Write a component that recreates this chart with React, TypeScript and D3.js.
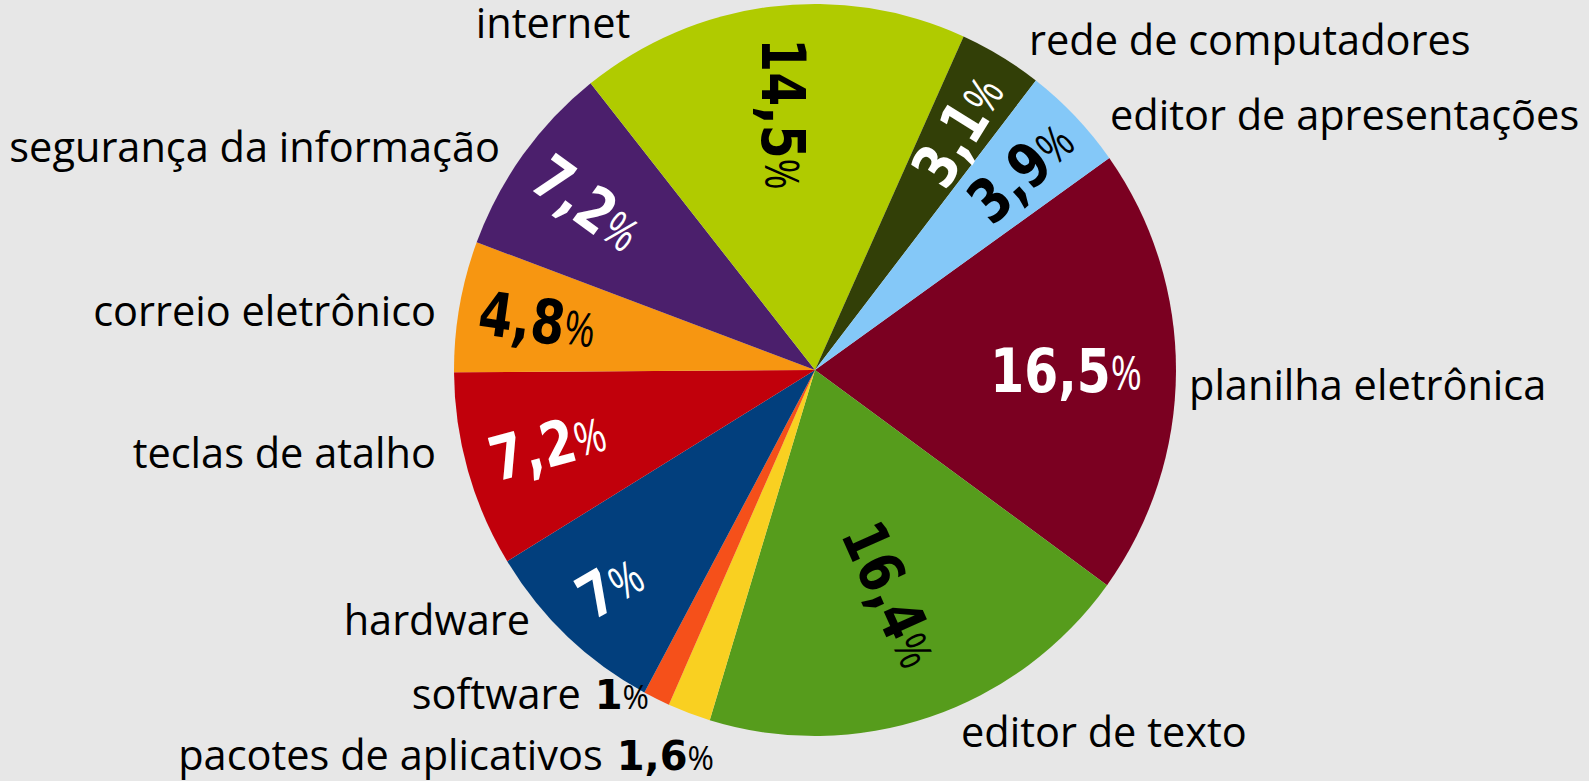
import React from "react";
import * as d3 from "d3";

const categories = [
  "planilha eletrônica",
  "editor de texto",
  "pacotes de aplicativos",
  "software",
  "hardware",
  "teclas de atalho",
  "correio eletrônico",
  "segurança da informação",
  "internet",
  "rede de computadores",
  "editor de apresentações",
];
const values = [16.5, 16.4, 1.6, 1, 7, 7.2, 4.8, 7.2, 14.5, 3.1, 3.9];
const valueLabels = ["16,5", "16,4", "1,6", "1", "7", "7,2", "4,8", "7,2", "14,5", "3,1", "3,9"];

const colors = [
  "#7b0021", "#569c1c", "#f9d021", "#f5501a", "#023f7d", "#c1000b",
  "#f79611", "#4b1f6c", "#b0cb00", "#323f07", "#84c8f8",
];

// in-slice label styling: [radius, rotation, color] ; null = label placed outside inline
const inside: ([number, number, string] | null)[] = [
  [251, 0, "#ffffff"],
  [237, 66, "#000000"],
  null,
  null,
  [298, -30, "#ffffff"],
  [278, -15, "#ffffff"],
  [282, 8, "#000000"],
  [282, 36, "#ffffff"],
  [258, 90, "#000000"],
  [279, -58, "#ffffff"],
  [286, -42, "#000000"],
];

// outside category label positions: [x, y, anchor]
const outside: [number, number, string][] = [
  [1189, 400, "start"],
  [961, 747, "start"],
  [714, 770, "end"],
  [649, 709, "end"],
  [530, 635, "end"],
  [436, 468, "end"],
  [436, 326, "end"],
  [500, 162, "end"],
  [553, 38, "middle"],
  [1029, 55, "start"],
  [1110, 130, "start"],
];

const W = 1589;
const H = 781;
const CX = 815;
const CY = 370;
const R = 361;

export default function App() {
  const deg = Math.PI / 180;
  const pie = d3
    .pie<number>()
    .sort(null)
    .value((d) => d)
    .startAngle(54.6 * deg)
    .endAngle(54.6 * deg + 2 * Math.PI);
  const arcs = pie(values);
  const arc = d3.arc<d3.PieArcDatum<number>>().innerRadius(0).outerRadius(R);
  const labelFont = "'Open Sans', sans-serif";
  const numFont = "'DejaVu Sans', Verdana, sans-serif";

  return (
    <svg
      width={W}
      height={H}
      style={{ position: "absolute", left: 0, top: 0, display: "block" }}
    >
      <rect x={0} y={0} width={W} height={H} fill="#e7e7e7" />
      <g transform={`translate(${CX},${CY}) scale(1,1.014)`}>
        {arcs.map((a, i) => (
          <path key={i} d={arc(a) || ""} fill={colors[i]} />
        ))}
      </g>
      {arcs.map((a, i) => {
        const cfg = inside[i];
        if (!cfg) return null;
        const mid = (a.startAngle + a.endAngle) / 2;
        const x = CX + cfg[0] * Math.sin(mid);
        const y = CY - cfg[0] * Math.cos(mid);
        return (
          <g key={"p" + i} transform={`translate(${x},${y}) rotate(${cfg[1]}) scale(0.8,1)`}>
            <text
              textAnchor="middle"
              dominantBaseline="central"
              fill={cfg[2]}
            >
              <tspan fontFamily={numFont} fontWeight="bold" fontSize={61}>
                {valueLabels[i]}
              </tspan>
              <tspan fontFamily={labelFont} fontSize={47}>%</tspan>
            </text>
          </g>
        );
      })}
      {categories.map((c, i) => {
        const [x, y, anchor] = outside[i];
        const inline = inside[i] === null;
        return (
          <text
            key={"l" + i}
            x={x}
            y={y}
            textAnchor={anchor as any}
            fontFamily={labelFont}
            fontSize={41.5}
            fill="#000"
          >
            {c}
            {inline ? (
              <>
                <tspan fontFamily={numFont} fontWeight="bold" fontSize={40}>
                  {" " + valueLabels[i]}
                </tspan>
                <tspan fontSize={32}>%</tspan>
              </>
            ) : null}
          </text>
        );
      })}
    </svg>
  );
}
